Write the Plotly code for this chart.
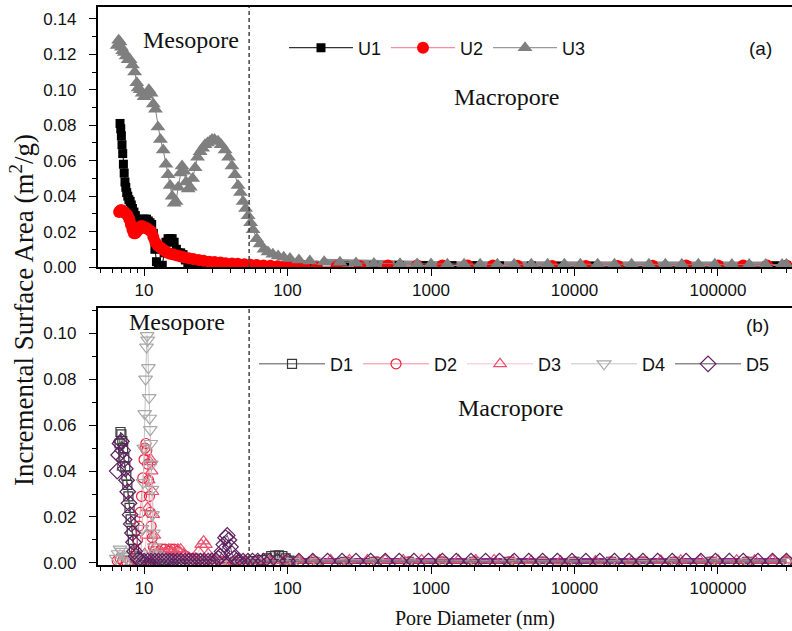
import plotly.graph_objects as go

# ---------------- data: panel (a) (pore diameter nm, incremental surface area m2/g)
U1 = [(6.8, 0.081), (6.88, 0.078), (6.95, 0.074), (7.02, 0.069), (7.1, 0.064), (7.18, 0.058),
      (7.27, 0.053), (7.36, 0.048), (7.46, 0.045), (7.57, 0.042), (7.7, 0.040), (7.84, 0.038),
      (8.0, 0.037), (8.15, 0.035), (8.3, 0.033), (8.5, 0.031), (8.7, 0.029), (8.9, 0.027),
      (9.1, 0.026), (9.35, 0.026), (9.6, 0.026), (9.85, 0.027), (10.1, 0.027), (10.4, 0.027),
      (10.7, 0.026), (11.0, 0.025), (11.3, 0.024), (11.6, 0.019), (11.9, 0.010), (12.2, 0.003),
      (12.6, 0.0005), (13.0, 0.0), (13.4, 0.001), (13.8, 0.008), (14.2, 0.014), (14.7, 0.016),
      (15.2, 0.016), (15.7, 0.016), (16.2, 0.014), (16.8, 0.010), (17.4, 0.008), (18.0, 0.008),
      (18.7, 0.007), (19.4, 0.004), (20.2, 0.002), (21.2, 0.001), (22.5, 0.0005), (24, 0.0003),
      (26, 0.0002), (29, 0.0002), (32, 0.0001), (36, 0.0001), (40, 0.0001), (45, 0.0001),
      (50, 0.0001), (57, 0.0001), (65, 0.0001), (75, 0.0001), (87, 0.0001), (100, 0.0001)]
U1_TAIL = [(150, 0.0004), (250, 0.0005), (400, 0.0006), (600, 0.0008), (900, 0.0008),
           (1400, 0.0008), (2000, 0.0008), (3000, 0.0007), (5000, 0.0006), (8000, 0.0005),
           (13000, 0.0005), (20000, 0.0005), (35000, 0.0005), (60000, 0.0006), (100000, 0.0007),
           (160000, 0.0007), (250000, 0.0007), (300000, 0.0007)]

U2 = [(6.7, 0.031), (6.85, 0.032), (7.0, 0.032), (7.15, 0.031), (7.3, 0.031), (7.5, 0.030),
      (7.7, 0.029), (7.9, 0.027), (8.1, 0.024), (8.3, 0.021), (8.5, 0.019), (8.7, 0.019),
      (8.9, 0.020), (9.1, 0.021), (9.3, 0.022), (9.5, 0.023), (9.8, 0.023), (10.1, 0.022),
      (10.4, 0.022), (10.8, 0.021), (11.2, 0.020), (11.6, 0.017), (12.0, 0.014), (12.5, 0.012),
      (13.0, 0.011), (13.5, 0.010), (14.0, 0.009), (14.6, 0.008), (15.2, 0.0075), (16.0, 0.007),
      (17.0, 0.0065), (18.0, 0.006), (19.0, 0.0055), (20.5, 0.005), (22, 0.0045), (24, 0.004),
      (26, 0.0035), (28.5, 0.003), (31, 0.0028), (34, 0.0025), (37, 0.0022), (41, 0.002),
      (45, 0.0018), (50, 0.0015), (55, 0.0013), (61, 0.0011), (68, 0.0009), (76, 0.0007),
      (85, 0.0005), (95, 0.0004), (106, 0.0003), (118, 0.0002), (132, 0.0001)]
U2_TAIL = [(160, 0.0003), (220, 0.0004), (320, 0.0005), (500, 0.0008), (800, 0.0009),
           (1200, 0.0009), (1800, 0.0009), (2700, 0.0008), (4000, 0.0007), (7000, 0.0006),
           (12000, 0.0006), (20000, 0.0006), (35000, 0.0007), (60000, 0.0008), (100000, 0.0009),
           (150000, 0.0009), (220000, 0.0009), (300000, 0.0009)]

U3 = [(6.5, 0.125), (6.65, 0.128), (6.8, 0.127), (6.95, 0.124), (7.1, 0.122), (7.3, 0.121),
      (7.5, 0.119), (7.75, 0.117), (8.0, 0.117), (8.3, 0.114), (8.6, 0.110), (8.9, 0.104),
      (9.1, 0.101), (9.4, 0.100), (9.7, 0.098), (10.0, 0.096), (10.4, 0.097), (10.8, 0.100),
      (11.2, 0.098), (11.6, 0.092), (12.0, 0.089), (12.5, 0.079), (13.0, 0.072), (13.6, 0.066),
      (14.2, 0.058), (14.7, 0.052), (15.2, 0.046), (15.7, 0.040), (16.2, 0.036), (16.7, 0.037),
      (17.3, 0.045), (17.9, 0.053), (18.4, 0.057), (19.0, 0.054), (19.6, 0.048), (20.3, 0.044),
      (21.0, 0.045), (21.8, 0.050), (22.7, 0.056), (23.6, 0.062), (24.6, 0.065), (25.6, 0.067),
      (26.6, 0.069), (27.7, 0.070), (28.8, 0.071), (29.8, 0.072), (31.0, 0.072), (32.8, 0.071),
      (34.5, 0.069), (36.7, 0.066), (38.8, 0.062), (41.0, 0.057), (43.0, 0.052), (45.2, 0.046),
      (47.0, 0.042), (49.0, 0.037), (51.0, 0.033), (53.1, 0.029), (55.3, 0.025), (57.5, 0.021),
      (61.0, 0.016), (64.3, 0.013), (68.5, 0.010), (73.1, 0.0085), (79, 0.0072), (86, 0.0062),
      (94, 0.0055), (104, 0.0048), (120, 0.0040), (143, 0.0034), (180, 0.0030), (232, 0.0027),
      (300, 0.0023), (400, 0.0020), (608, 0.0018)]
U3_TAIL = [(800, 0.0017), (1000, 0.0017), (1300, 0.0016), (1700, 0.0016), (2200, 0.0016),
           (2900, 0.0016), (3800, 0.0015), (5000, 0.0016), (6500, 0.0016), (8500, 0.0016),
           (11000, 0.0016), (14500, 0.0016), (19000, 0.0015), (25000, 0.0015), (33000, 0.0015),
           (43000, 0.0015), (56000, 0.0015), (73000, 0.0015), (95000, 0.0015), (125000, 0.0014),
           (165000, 0.0014), (215000, 0.0014), (280000, 0.0014), (300000, 0.0014)]

# ---------------- data: panel (b)
D1 = [(6.75, 0.052), (6.85, 0.057), (6.95, 0.056), (7.05, 0.053), (7.15, 0.050), (7.28, 0.046),
      (7.4, 0.042), (7.52, 0.038), (7.65, 0.034), (7.78, 0.029), (7.92, 0.024), (8.06, 0.019),
      (8.2, 0.014), (8.35, 0.010), (8.5, 0.006), (8.7, 0.003), (8.95, 0.0015), (9.3, 0.001),
      (10, 0.0008), (11, 0.0008), (12.5, 0.001), (14, 0.0012), (16, 0.001), (18, 0.0008),
      (21, 0.0006), (25, 0.0006), (30, 0.0005), (36, 0.0006), (43, 0.0005), (50, 0.0006),
      (58, 0.0008), (66, 0.0012), (72, 0.002), (77, 0.003), (82, 0.0032), (87, 0.0033),
      (92, 0.003), (97, 0.002), (103, 0.001), (110, 0.0006)]
D1_TAIL = [(150, 0.0005), (250, 0.0005), (400, 0.0005), (700, 0.0005), (1200, 0.0005),
           (2000, 0.0005), (3500, 0.0005), (6000, 0.0005), (10000, 0.0005), (18000, 0.0005),
           (30000, 0.0005), (50000, 0.0005), (90000, 0.0005), (160000, 0.0005), (300000, 0.0005)]

D2 = [(6.5, 0.001), (6.8, 0.002), (7.1, 0.001), (7.5, 0.0008), (8.0, 0.001), (8.5, 0.002),
      (8.8, 0.005), (9.0, 0.010), (9.2, 0.016), (9.4, 0.022), (9.6, 0.029), (9.8, 0.037),
      (10.0, 0.045), (10.15, 0.050), (10.3, 0.052), (10.45, 0.049), (10.6, 0.043), (10.75, 0.036),
      (10.9, 0.029), (11.05, 0.022), (11.2, 0.016), (11.4, 0.011), (11.6, 0.007), (11.9, 0.005),
      (12.3, 0.004), (12.8, 0.005), (13.4, 0.006), (14.0, 0.006), (14.7, 0.005), (15.4, 0.006),
      (16.2, 0.006), (17.0, 0.005), (18.0, 0.004), (19.5, 0.003), (21, 0.002), (23, 0.0015),
      (26, 0.001), (30, 0.0008), (35, 0.0006), (42, 0.0005), (50, 0.0005), (60, 0.0005),
      (75, 0.0004), (95, 0.0004), (120, 0.0004)]
D2_TAIL = [(160, 0.0004), (260, 0.0004), (420, 0.0005), (700, 0.0005), (1200, 0.0005),
           (2000, 0.0005), (3500, 0.0005), (6000, 0.0005), (10000, 0.0005), (18000, 0.0005),
           (30000, 0.0005), (50000, 0.0005), (90000, 0.0005), (160000, 0.0005), (300000, 0.0005)]

D3 = [(9.8, 0.001), (10.1, 0.004), (10.4, 0.012), (10.6, 0.024), (10.8, 0.036), (11.0, 0.044),
      (11.15, 0.045), (11.3, 0.040), (11.45, 0.031), (11.6, 0.021), (11.8, 0.012), (12.0, 0.007),
      (12.4, 0.004), (12.9, 0.003), (13.5, 0.004), (14.2, 0.005), (14.9, 0.006), (15.6, 0.005),
      (16.4, 0.004), (17.2, 0.006), (18.0, 0.006), (19.0, 0.004), (20.2, 0.002), (21.5, 0.0015),
      (22.8, 0.002), (24.0, 0.005), (25.0, 0.008), (26.0, 0.0095), (27.0, 0.008), (28.0, 0.004),
      (29.5, 0.002), (31.5, 0.0012), (34, 0.001), (38, 0.0008), (43, 0.0008), (50, 0.0008),
      (60, 0.0008), (75, 0.0009), (95, 0.001), (120, 0.0012)]
D3_TAIL = [(150, 0.0013), (200, 0.0013), (270, 0.0013), (360, 0.0013), (480, 0.0013),
           (640, 0.0013), (860, 0.0013), (1150, 0.0013), (1550, 0.0013), (2050, 0.0013),
           (2750, 0.0013), (3700, 0.0012), (5000, 0.0010), (8000, 0.0008), (14000, 0.0008),
           (25000, 0.0008), (40000, 0.0011), (55000, 0.0012), (75000, 0.0012), (100000, 0.0012),
           (135000, 0.0012), (180000, 0.0012), (240000, 0.0012), (300000, 0.0012)]

D4 = [(6.4, 0.002), (6.6, 0.004), (6.8, 0.006), (7.0, 0.005), (7.2, 0.003), (7.5, 0.002),
      (7.9, 0.001), (8.4, 0.0008), (8.9, 0.001), (9.3, 0.002), (9.5, 0.004), (9.7, 0.015),
      (9.85, 0.035), (9.95, 0.050), (10.1, 0.065), (10.25, 0.080), (10.4, 0.094), (10.5, 0.099),
      (10.6, 0.097), (10.72, 0.085), (10.85, 0.072), (10.95, 0.063), (11.05, 0.058), (11.15, 0.052),
      (11.25, 0.043), (11.35, 0.032), (11.45, 0.021), (11.6, 0.013), (11.8, 0.007), (12.1, 0.004),
      (12.6, 0.003), (13.2, 0.002), (14, 0.0015), (16, 0.001), (19, 0.0008), (23, 0.0008),
      (28, 0.0007), (35, 0.0007), (45, 0.0007), (60, 0.0007), (80, 0.0007), (110, 0.0007)]
D4_TAIL = [(160, 0.0007), (260, 0.0007), (420, 0.0007), (700, 0.0007), (1200, 0.0007),
           (2000, 0.0007), (3500, 0.0007), (6000, 0.0007), (10000, 0.0007), (18000, 0.0007),
           (30000, 0.0007), (50000, 0.0007), (90000, 0.0007), (160000, 0.0007), (300000, 0.0007)]

D5 = [(6.5, 0.040), (6.65, 0.047), (6.8, 0.052), (6.95, 0.053), (7.1, 0.049), (7.25, 0.045),
      (7.4, 0.041), (7.55, 0.036), (7.7, 0.031), (7.85, 0.026), (8.0, 0.021), (8.15, 0.017),
      (8.3, 0.013), (8.45, 0.009), (8.6, 0.005), (8.8, 0.003), (9.1, 0.0015), (9.5, 0.001),
      (10.0, 0.0008), (10.6, 0.0008), (11.2, 0.0008), (11.9, 0.0008), (12.6, 0.0008),
      (13.4, 0.0008), (14.2, 0.0008), (15.1, 0.0008), (16.0, 0.0008), (17.0, 0.0008),
      (18.1, 0.0008), (19.3, 0.0008), (20.5, 0.0008), (21.8, 0.0008), (23.2, 0.0008),
      (24.7, 0.0008), (26.3, 0.0008), (28.0, 0.0008), (29.8, 0.0009), (31.7, 0.001),
      (33.0, 0.002), (34.0, 0.003), (35.0, 0.005), (36.0, 0.008), (37.0, 0.011), (38.0, 0.012),
      (39.0, 0.010), (40.0, 0.007), (41.0, 0.004), (42.5, 0.002), (44.0, 0.001), (46.0, 0.0008),
      (49.0, 0.0008), (53.0, 0.0008), (57.0, 0.0008), (62.0, 0.0008), (68.0, 0.0008)]
D5_TAIL = [(75, 0.0008), (85, 0.0008), (100, 0.0008), (120, 0.0008), (150, 0.0008),
           (190, 0.0008), (240, 0.0008), (300, 0.0008), (380, 0.0008), (480, 0.0008),
           (600, 0.0008), (760, 0.0008), (960, 0.0008), (1200, 0.0008), (1500, 0.0008),
           (1900, 0.0008), (2400, 0.0008), (3000, 0.0008), (3800, 0.0008), (4800, 0.0008),
           (6000, 0.0008), (7600, 0.0008), (9600, 0.0008), (12000, 0.0008), (15000, 0.0008),
           (19000, 0.0008), (24000, 0.0008), (30000, 0.0008), (38000, 0.0008), (48000, 0.0008),
           (60000, 0.0008), (76000, 0.0008), (96000, 0.0008), (120000, 0.0008), (150000, 0.0008),
           (190000, 0.0008), (240000, 0.0008), (300000, 0.0008)]

X_TICKS = [10, 100, 1000, 10000, 100000]
X_TICKTEXT = ["10", "100", "1000", "10000", "100000"]
MESO_LIMIT = 54  # dashed divider (nm)

# ---------------- figure
SERIF = "Liberation Serif, Times New Roman, serif"
SANS = "Liberation Sans, Arial, sans-serif"


def xs(pairs):
    return [p[0] for p in pairs]


def ys(pairs):
    return [p[1] for p in pairs]


fig = go.Figure()

top_series = [
    ("U1", U1 + U1_TAIL, "#000000", "#000000", "square", 9),
    ("U2", U2 + U2_TAIL, "#ff0000", "#ff6f8a", "circle", 12),
    ("U3", U3 + U3_TAIL, "#7f7f7f", "#7f7f7f", "triangle-up", 13),
]
# thick band for the dense low tail (drawn first, under markers)
fig.add_trace(go.Scatter(x=xs(U3[-5:] + U3_TAIL), y=ys(U3[-5:] + U3_TAIL), mode="lines",
                         line=dict(color="#8a8a8a", width=6), showlegend=False,
                         xaxis="x", yaxis="y", hoverinfo="skip"))
for name, data, mc, lc, sym, size in top_series:
    fig.add_trace(go.Scatter(
        x=xs(data), y=ys(data), name=name, mode="lines+markers",
        line=dict(color=lc, width=1),
        marker=dict(symbol=sym, size=size, color=mc, line=dict(width=0)),
        xaxis="x", yaxis="y", legend="legend"))

band5 = [p for p in D5 + D5_TAIL if p[0] >= 9.5 and p[1] < 0.0015]
fig.add_trace(go.Scatter(x=xs(band5), y=ys(band5), mode="lines",
                         line=dict(color="#8e2a8e", width=6), showlegend=False,
                         xaxis="x2", yaxis="y2", hoverinfo="skip"))
bottom_series = [
    ("D1", D1 + D1_TAIL, "#3a3a3a", "#555555", "square-open", 9),
    ("D2", D2 + D2_TAIL, "#f0203c", "#f28a9c", "circle-open", 10),
    ("D3", D3 + D3_TAIL, "#e8506e", "#f6c2cc", "triangle-up-open", 11),
    ("D4", D4 + D4_TAIL, "#a8a8a8", "#c4c4c4", "triangle-down-open", 12),
    ("D5", D5 + D5_TAIL, "#5e2060", "#555555", "diamond-open", 12),
]
for name, data, mc, lc, sym, size in bottom_series:
    fig.add_trace(go.Scatter(
        x=xs(data), y=ys(data), name=name, mode="lines+markers",
        line=dict(color=lc, width=1),
        marker=dict(symbol=sym, size=size, color=mc, line=dict(width=1.2, color=mc)),
        xaxis="x2", yaxis="y2", legend="legend2"))

minor_x = [m * 10 ** e for e in range(0, 6) for m in range(2, 10)]
xaxis_common = dict(
    type="log", range=[0.679, 5.516], showline=True, linecolor="#000", linewidth=1.5,
    mirror=True, ticks="outside", ticklen=7, tickwidth=1.3, tickcolor="#000",
    tickvals=X_TICKS, ticktext=X_TICKTEXT, showgrid=False, zeroline=False,
    tickfont=dict(family=SANS, size=17, color="#111"),
    minor=dict(tickvals=minor_x, ticks="outside", ticklen=4, tickwidth=1.2,
               tickcolor="#000", showgrid=False),
)
yaxis_common = dict(
    showline=True, linecolor="#000", linewidth=1.5, mirror=True, ticks="outside",
    ticklen=7, tickwidth=1.3, tickcolor="#000", dtick=0.02, tickformat=".2f",
    showgrid=False, zeroline=False, tickfont=dict(family=SANS, size=17, color="#111"),
    ticksuffix="\u00a0\u00a0",
    minor=dict(dtick=0.01, ticks="outside", ticklen=4, tickwidth=1.2, tickcolor="#000",
               showgrid=False),
)

legend_common = dict(orientation="h", xanchor="left", yanchor="middle",
                     font=dict(family=SANS, size=18, color="#111"),
                     bgcolor="rgba(0,0,0,0)", borderwidth=0)

fig.update_layout(
    width=792, height=631, plot_bgcolor="white", paper_bgcolor="white",
    margin=dict(l=98, r=0, t=7, b=66, autoexpand=False),
    xaxis=dict(xaxis_common, anchor="y"),
    yaxis=dict(yaxis_common, domain=[0.534, 1.0], range=[0, 0.1467], anchor="x"),
    xaxis2=dict(xaxis_common, anchor="y2"),
    yaxis2=dict(yaxis_common, domain=[0.0, 0.4606], range=[-0.0009, 0.111], anchor="x2"),
    legend=dict(legend_common, x=0.268, y=0.9265, itemwidth=64),
    legend2=dict(legend_common, x=0.2248, y=0.36, itemwidth=66),
    showlegend=True,
)

for yref in ["y domain", "y2 domain"]:
    xref = "x" if yref == "y domain" else "x2"
    fig.add_shape(type="line", xref=xref, yref=yref, x0=MESO_LIMIT, x1=MESO_LIMIT, y0=0, y1=1,
                  line=dict(color="#444", width=1.5, dash="4px,3px"))

ann = [
    ("Mesopore", 0.134, 0.941, SERIF, 24),
    ("Macropore", 0.589, 0.839, SERIF, 24),
    ("(a)", 0.954, 0.9265, SANS, 19),
    ("Mesopore", 0.114, 0.4355, SERIF, 24),
    ("Macropore", 0.594, 0.281, SERIF, 24),
    ("(b)", 0.950, 0.430, SANS, 19),
]
for text, x, y, fam, size in ann:
    fig.add_annotation(text=text, x=x, y=y, xref="paper", yref="paper", showarrow=False,
                       xanchor="center", yanchor="middle",
                       font=dict(family=fam, size=size, color="#111"))

fig.add_annotation(text="Incremental Surface Area (m<sup>2</sup>/g)", x=-0.1095, y=0.457,
                   xref="paper", yref="paper", showarrow=False, textangle=-90,
                   xanchor="center", yanchor="middle",
                   font=dict(family=SERIF, size=27, color="#111"))
fig.add_annotation(text="Pore Diameter (nm)", x=0.543, y=-0.095, xref="paper", yref="paper",
                   showarrow=False, xanchor="center", yanchor="middle",
                   font=dict(family=SERIF, size=20, color="#111"))

fig.write_html("out.html")
